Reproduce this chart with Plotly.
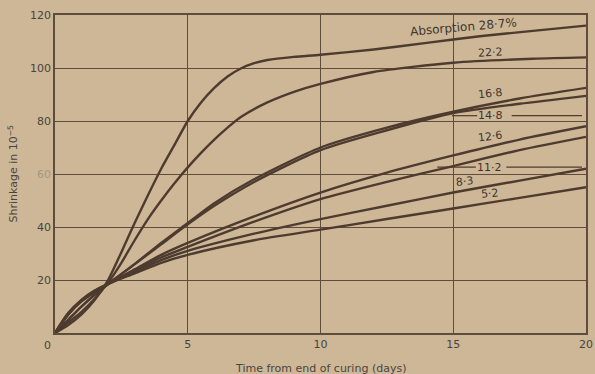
import plotly.graph_objects as go

# Shrinkage curves (10^-5) for aggregates of different absorption (%)
absorption = ["28·7", "22·2", "16·8", "14·8", "12·6", "11·2", "8·3", "5·2"]

days_287 = [0, 0.5, 1, 1.5, 2, 2.5, 3, 3.5, 4, 4.5, 5, 5.5, 6, 6.5, 7, 7.5, 8, 9, 10, 12, 14, 16, 18, 20]
shr_287 = [0, 3, 7, 12.5, 20, 30.5, 41.5, 52, 62, 71, 80, 87, 92.5, 96.8, 99.8, 101.8, 103, 104.2, 105, 107, 109.5, 112, 114, 116]

days_222 = [0, 0.5, 1, 1.5, 2, 2.5, 3, 3.5, 4, 4.5, 5, 5.5, 6, 6.5, 7, 8, 9, 10, 12, 15, 18, 20]
shr_222 = [0, 4, 8, 13, 19, 26.5, 35, 43, 50, 56.5, 62.5, 68, 73, 77.5, 81.5, 87, 91, 94, 98.5, 102, 103.5, 104]

days_mid = [0, 0.5, 1, 1.5, 2, 3, 4, 5, 6, 7.5, 10, 12.5, 15, 17.5, 20]
shr_168 = [0, 5, 10, 14.5, 18.5, 26, 34, 41.5, 49, 58, 70, 77.5, 83.5, 88.5, 92.5]
shr_148 = [0, 5, 10, 14.5, 18.5, 26, 33.5, 41, 48, 57, 69, 76.5, 83, 86.5, 89.5]

days_low = [0, 0.5, 1, 1.5, 2, 3, 4, 5, 7.5, 10, 12.5, 15, 17.5, 20]
shr_126 = [0, 7, 12, 15.5, 18.5, 24, 29.5, 34, 44, 53, 60.5, 67, 73, 78]
shr_112 = [0, 7, 12, 15.5, 18.5, 23.5, 28.5, 32.5, 42, 50.5, 57, 63, 69, 74]
shr_83 = [0, 7.5, 12.5, 16, 18.5, 23, 27.5, 31, 37.5, 43, 48, 53, 57.5, 62]
shr_52 = [0, 7.5, 12.5, 16, 18.5, 22.5, 26.5, 29.5, 35, 39, 43, 47, 51, 55]

series = [
    (days_287, shr_287), (days_222, shr_222), (days_mid, shr_168), (days_mid, shr_148),
    (days_low, shr_126), (days_low, shr_112), (days_low, shr_83), (days_low, shr_52),
]

# label positions (days, shrinkage, angle)
label_x = [15.4, 16.4, 16.4, 16.4, 16.4, 16.35, 15.45, 16.4]
label_y = [115.3, 106, 90.5, 82, 74, 62.6, 57, 52.8]
label_angle = [-5, -3, -6, 0, -7, 0, -6, -5]

x_ticks = [5, 10, 15, 20]
y_ticks = [20, 40, 60, 80, 100, 120]

BG = "#cdb796"
INK = "#4e3b2f"
GRID = "#5e4c3c"
TEXT = "#4a4440"
FONT = "DejaVu Sans"

fig = go.Figure()

for xs, ys in series:
    fig.add_trace(go.Scatter(
        x=xs, y=ys, mode="lines",
        line={"color": INK, "width": 2.4, "shape": "spline", "smoothing": 0.7},
        showlegend=False, hoverinfo="skip",
    ))

for i, txt in enumerate(absorption):
    text = f"Absorption {txt}%" if i == 0 else txt
    fig.add_annotation(
        x=label_x[i], y=label_y[i], text=text, showarrow=False,
        textangle=label_angle[i],
        font={"family": FONT, "size": 12 if i == 0 else 11, "color": "#3f3530"},
    )

# leader lines beside the 14·8 and 11·2 labels
for y0, segs in [(82, [(14.95, 15.9), (17.2, 19.85)]), (62.6, [(14.4, 15.85), (17.0, 19.85)])]:
    for xa, xb in segs:
        fig.add_shape(type="line", x0=xa, x1=xb, y0=y0, y1=y0,
                      line={"color": INK, "width": 1.2})

# shared corner zero
fig.add_annotation(x=0, y=0, xref="x", yref="y", text="0", showarrow=False,
                   xshift=-8, yshift=-12, font={"family": FONT, "size": 11, "color": TEXT})

# axis titles
fig.add_annotation(x=0.5, y=-0.085, xref="paper", yref="paper", yanchor="top",
                   text="Time from end of curing (days)", showarrow=False,
                   font={"family": FONT, "size": 11, "color": TEXT})
fig.add_annotation(x=-0.08, y=0.5, xref="paper", yref="paper", xanchor="center",
                   text="Shrinkage in 10<sup>−5</sup>", showarrow=False, textangle=-90,
                   font={"family": FONT, "size": 11, "color": TEXT})

axis_common = dict(
    showgrid=True, gridcolor=GRID, gridwidth=1,
    showline=True, linecolor=GRID, linewidth=1.5, mirror=True,
    zeroline=False, ticks="", automargin=False,
    tickfont={"family": FONT, "size": 11, "color": TEXT},
)

fig.update_layout(
    width=595, height=374,
    paper_bgcolor=BG, plot_bgcolor=BG,
    margin={"l": 55, "r": 9, "t": 15, "b": 41},
    xaxis=dict(axis_common, range=[0, 20], tickvals=x_ticks, ticktext=[str(v) for v in x_ticks]),
    yaxis=dict(axis_common, range=[0, 120], tickvals=y_ticks,
               ticktext=["20", "40", "<span style='color:#a39783'>60</span>", "80", "100", "120"]),
)

fig.write_html("out.html", config={"displayModeBar": False},
               post_script="document.body.style.margin='0';")
